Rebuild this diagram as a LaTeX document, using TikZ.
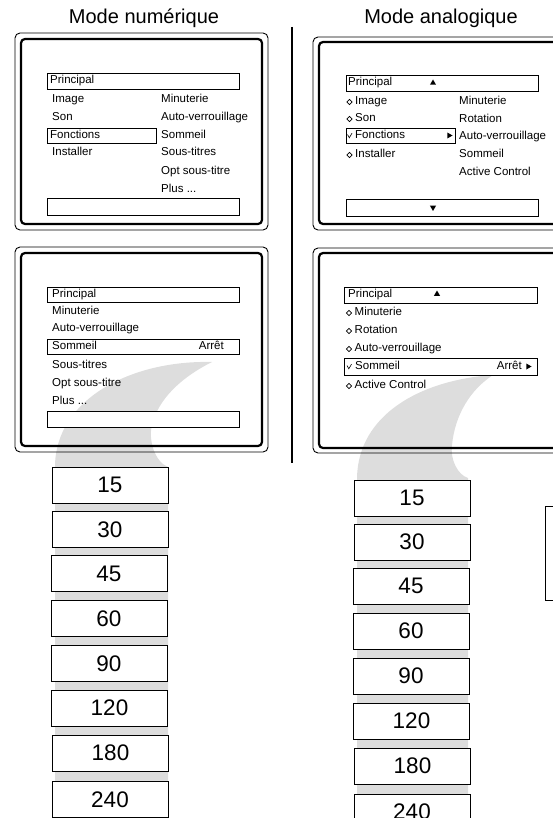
\documentclass[tikz,border=0pt]{standalone}
\usepackage{fontspec}
\setmainfont{Liberation Sans}
\usetikzlibrary{shapes.geometric}
\definecolor{swoosh}{RGB}{221,221,221}
\tikzset{
  frameo/.style={draw, line width=0.9pt, rounded corners=5pt, inner sep=0},
  framei/.style={draw, line width=2.2pt, rounded corners=4pt, inner sep=0},
  mbox/.style={draw, line width=0.9pt, fill=white, inner sep=0},
  mtxt/.style={font=\fontsize{11.5}{12}\selectfont, inner sep=0, anchor=mid west},
  rtxt/.style={font=\fontsize{11.5}{12}\selectfont, inner sep=0, anchor=mid east},
  numbox/.style={draw, line width=1pt, fill=white, minimum width=116pt, minimum height=36pt, inner sep=0, font=\fontsize{22.5}{24}\selectfont},
  ttl/.style={font=\fontsize{20}{22}\selectfont, inner sep=0},
  dia/.style={diamond, draw, line width=0.6pt, minimum width=5.5pt, minimum height=5.5pt, inner sep=0},
  tri/.style={regular polygon, regular polygon sides=3, fill, minimum size=7pt, inner sep=0},
  chk/.style={line width=0.6pt},
}
\begin{document}
\begin{tikzpicture}[x=1pt,y=-1pt]
\useasboundingbox (0,0) rectangle (553,818);
\clip (0,0) rectangle (553,818);
% swooshes
\fill[swoosh] (212,362) .. controls (130,360) and (55,400) .. (55,467)
  -- (55,818) -- (168,818) -- (168,467)
  .. controls (155,462) and (148,440) .. (152,425)
  .. controls (158,400) and (180,378) .. (212,362) -- cycle;
\fill[swoosh] (493,375) .. controls (420,380) and (358,415) .. (357,478)
  -- (357,818) -- (468,818) -- (468,478)
  .. controls (458,475) and (450,460) .. (452,445)
  .. controls (455,415) and (470,390) .. (493,375) -- cycle;
% titles
\node[ttl] (tn) at (144,18) {Mode numérique};
\node[ttl] (ta) at (441,18) {Mode analogique};
% separator
\coordinate (s1) at (292,27);
\coordinate (s2) at (292,463);
\draw[line width=1.2pt] (s1) -- (s2);
% frames
\node[frameo, minimum width=253pt, minimum height=197pt] (f1o) at (141.5,131.5) {};
\node[framei, minimum width=241pt, minimum height=185pt] (f1i) at (141.5,131.5) {};
\node[frameo, minimum width=253pt, minimum height=205pt] (f2o) at (141.5,349.5) {};
\node[framei, minimum width=241pt, minimum height=193pt] (f2i) at (141.5,349.5) {};
\node[frameo, minimum width=262pt, minimum height=193pt] (f3o) at (444,133.5) {};
\node[framei, minimum width=250pt, minimum height=182pt] (f3i) at (444,133) {};
\node[frameo, minimum width=262pt, minimum height=205pt] (f4o) at (444,350.5) {};
\node[framei, minimum width=250pt, minimum height=195pt] (f4i) at (444,350.5) {};
% ---- left upper menu
\node[mbox, minimum width=192pt, minimum height=16pt] (b1) at (143,81) {};
\node[mbox, minimum width=109pt, minimum height=15pt] (b2) at (101.5,135.5) {};
\node[mbox, minimum width=192pt, minimum height=17pt] (b3) at (143,206.5) {};
\node[mtxt] (a1) at (50,81) {Principal};
\node[mtxt] (a2) at (52,100) {Image};
\node[mtxt] (a3) at (52,118) {Son};
\node[mtxt] (a4) at (50,135.5) {Fonctions};
\node[mtxt] (a5) at (52,153) {Installer};
\node[mtxt] (a6) at (161,100) {Minuterie};
\node[mtxt] (a7) at (161,118) {Auto-verrouillage};
\node[mtxt] (a8) at (161,135.5) {Sommeil};
\node[mtxt] (a9) at (161,153) {Sous-titres};
\node[mtxt] (a10) at (161,172) {Opt sous-titre};
\node[mtxt] (a11) at (161,190) {Plus ...};
% ---- left lower menu
\node[mbox, minimum width=192pt, minimum height=15pt] (b4) at (143,294.5) {};
\node[mbox, minimum width=192pt, minimum height=15pt] (b5) at (143,346.5) {};
\node[mbox, minimum width=192pt, minimum height=16pt] (b6) at (143,419) {};
\node[mtxt] (c1) at (52,294.5) {Principal};
\node[mtxt] (c2) at (52,312) {Minuterie};
\node[mtxt] (c3) at (52,329) {Auto-verrouillage};
\node[mtxt] (c4) at (52,346.5) {Sommeil};
\node[rtxt] (c5) at (224,346.5) {Arrêt};
\node[mtxt] (c6) at (52,366) {Sous-titres};
\node[mtxt] (c7) at (52,384) {Opt sous-titre};
\node[mtxt] (c8) at (52,402) {Plus ...};
% ---- right upper menu
\node[mbox, minimum width=192pt, minimum height=16pt] (b7) at (442,83) {};
\node[mbox, minimum width=109pt, minimum height=15pt] (b8) at (400.5,135.5) {};
\node[mbox, minimum width=192pt, minimum height=17pt] (b9) at (442,207.5) {};
\node[mtxt] (e1) at (348,83) {Principal};
\node[tri, shape border rotate=0] (u1) at (433,83) {};
\node[dia] (d1) at (349.5,102) {};
\node[mtxt] (e2) at (355,102) {Image};
\node[dia] (d2) at (349.5,119) {};
\node[mtxt] (e3) at (355,119) {Son};
\draw[chk] (347.5,134.5) -- (349.3,137.8) -- (352,133.2);
\node[mtxt] (e4) at (355,135.5) {Fonctions};
\node[tri, shape border rotate=-90] (r1) at (449,135.5) {};
\node[dia] (d3) at (349.5,155) {};
\node[mtxt] (e5) at (355,155) {Installer};
\node[mtxt] (e6) at (459,102) {Minuterie};
\node[mtxt] (e7) at (459,120) {Rotation};
\node[mtxt] (e8) at (459,137) {Auto-verrouillage};
\node[mtxt] (e9) at (459,155) {Sommeil};
\node[mtxt] (e10) at (459,173) {Active Control};
\node[tri, shape border rotate=180] (v1) at (433,207.5) {};
% ---- right lower menu
\node[mbox, minimum width=193pt, minimum height=16pt] (b10) at (440.5,295) {};
\node[mbox, minimum width=193pt, minimum height=17pt] (b11) at (440.5,366.5) {};
\node[mtxt] (g1) at (348,295) {Principal};
\node[tri, shape border rotate=0] (u2) at (437,294) {};
\node[dia] (d4) at (349,313) {};
\node[mtxt] (g2) at (354.5,313) {Minuterie};
\node[dia] (d5) at (349,331) {};
\node[mtxt] (g3) at (354.5,331) {Rotation};
\node[dia] (d6) at (349,349) {};
\node[mtxt] (g4) at (354.5,349) {Auto-verrouillage};
\draw[chk] (347,365.5) -- (348.8,368.8) -- (351.5,364.2);
\node[mtxt] (g5) at (355,366.5) {Sommeil};
\node[rtxt] (g6) at (522,366.5) {Arrêt};
\node[tri, shape border rotate=-90] (r2) at (528,366.5) {};
\node[dia] (d7) at (349,386) {};
\node[mtxt] (g7) at (354.5,386) {Active Control};
% ---- number boxes left
\node[numbox] (l1) at (110,485) {15};
\node[numbox] (l2) at (110,529.5) {30};
\node[numbox] (l3) at (109,573.5) {45};
\node[numbox] (l4) at (109,618.5) {60};
\node[numbox] (l5) at (109,663.5) {90};
\node[numbox] (l6) at (109.5,708) {120};
\node[numbox] (l7) at (110.5,753) {180};
\node[numbox] (l8) at (110,799.5) {240};
% ---- number boxes right
\node[numbox] (r01) at (412,498) {15};
\node[numbox] (r02) at (412,542) {30};
\node[numbox] (r03) at (411,586) {45};
\node[numbox] (r04) at (411,631) {60};
\node[numbox] (r05) at (411,676) {90};
\node[numbox] (r06) at (411.5,721) {120};
\node[numbox] (r07) at (412.5,766) {180};
\node[numbox] (r08) at (412,812) {240};
% small box at right edge
\node[draw, line width=1pt, minimum width=30pt, minimum height=94pt, inner sep=0] (sb) at (560,553) {};
\end{tikzpicture}
\end{document}
